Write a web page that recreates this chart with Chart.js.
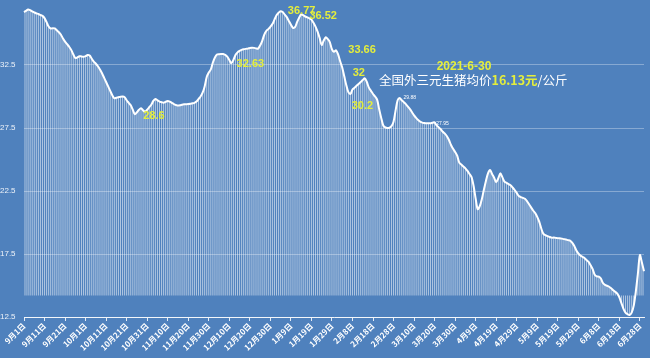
<!DOCTYPE html>
<html>
<head>
<meta charset="utf-8">
<script src="https://cdn.jsdelivr.net/npm/chart.js@4.4.1/dist/chart.umd.min.js"></script>
<style>
html,body{margin:0;padding:0;background:#4f81bd;}
#wrap{width:650px;height:358px;}
</style>
</head>
<body>
<div id="wrap"><canvas id="c" width="650" height="358"></canvas></div>
<script>
// ---- data ----
const monthNums = [9,10,11,12,1,2,3,4,5,6];
const monthDays = [30,31,30,31,31,28,31,30,31,30];
const categories = [];
monthNums.forEach((m,i)=>{ for(let d=1; d<=monthDays[i]; d++) categories.push(m+'月'+d+'日'); });

const tickLabels = ['9月1日','9月11日','9月21日','10月1日','10月11日','10月21日','10月31日','11月10日','11月20日','11月30日','12月10日','12月20日','12月30日','1月9日','1月19日','1月29日','2月8日','2月18日','2月28日','3月10日','3月20日','3月30日','4月9日','4月19日','4月29日','5月9日','5月19日','5月29日','6月8日','6月18日','6月28日'];

const price = [
36.7,36.8,36.9,36.85,36.75,36.68,36.6,36.55,36.47,36.4,
36.22,35.9,35.55,35.4,35.42,35.4,35.25,35.1,34.9,34.6,
34.35,34.15,33.95,33.7,33.35,33.05,33.1,33.2,33.18,33.15,
33.2,33.3,33.25,33.0,32.76,32.6,32.4,32.15,31.85,31.5,
31.15,30.8,30.45,30.1,29.86,29.9,29.94,29.98,30.0,29.95,
29.7,29.5,29.3,28.95,28.6,28.75,28.95,29.06,28.9,28.8,
28.95,29.15,29.35,29.65,29.8,29.7,29.6,29.55,29.5,29.58,
29.65,29.6,29.5,29.4,29.33,29.28,29.3,29.35,29.38,29.39,
29.4,29.42,29.46,29.5,29.6,29.8,30.0,30.3,30.8,31.55,
31.9,32.15,32.7,33.1,33.33,33.36,33.37,33.37,33.3,33.16,
32.9,32.63,32.9,33.3,33.5,33.62,33.7,33.75,33.78,33.8,
33.85,33.87,33.86,33.82,33.8,34.05,34.4,34.9,35.2,35.35,
35.53,35.75,36.1,36.45,36.65,36.77,36.7,36.5,36.3,36.0,
35.7,35.45,35.5,35.9,36.25,36.52,36.45,36.35,36.28,36.2,
36.1,35.85,35.55,35.15,34.65,34.1,34.45,34.7,34.55,34.3,
33.75,33.55,33.66,33.35,32.8,32.3,31.6,30.9,30.35,30.2,
30.55,30.7,30.85,31.0,31.15,31.3,31.44,31.15,30.7,30.45,
30.2,30.0,29.75,29.0,28.3,27.7,27.55,27.5,27.52,27.65,
28.0,28.9,29.7,29.88,29.7,29.55,29.4,29.2,29.0,28.75,
28.5,28.3,28.13,28.0,27.93,27.9,27.88,27.87,27.88,27.92,
27.95,27.7,27.55,27.4,27.2,27.05,26.85,26.55,26.15,25.85,
25.6,25.3,24.75,24.6,24.45,24.3,24.1,23.85,23.6,22.9,
21.9,21.05,21.3,21.85,22.6,23.3,23.9,24.17,23.85,23.55,
23.2,23.5,23.9,23.6,23.25,23.15,23.05,22.95,22.78,22.58,
22.35,22.1,22.02,21.95,21.88,21.7,21.45,21.2,20.95,20.75,
20.45,20.05,19.5,19.1,19.0,18.92,18.85,18.8,18.8,18.78,
18.76,18.75,18.72,18.68,18.65,18.6,18.56,18.4,18.15,17.8,
17.55,17.38,17.28,17.18,17.02,16.88,16.6,16.3,15.85,15.72,
15.7,15.55,15.2,15.05,14.98,14.9,14.78,14.62,14.5,14.35,
14.05,13.6,13.15,12.85,12.72,12.66,12.85,13.4,14.5,15.9,
17.42,16.8,16.13
];

const peakIndex  = [125,135,101,54,152,166,159,183,200];
const peakLabels = ['36.77','36.52','32.63','28.6','33.66','32','30.2','29.88','27.95'];

const titleDate = '2021-6-30';
const titleParts = ['全国外三元生猪均价','16.13元','/公斤'];

// ---- styling / drawing ----
const YELLOW = '#e4ee3c';
const CJK = '"Noto Sans CJK SC","Liberation Sans",sans-serif';
const peakStyle = [
  {dx:21,dy:0,size:11,color:YELLOW,bold:true},
  {dx:22,dy:2,size:11,color:YELLOW,bold:true},
  {dx:19,dy:1,size:11,color:YELLOW,bold:true},
  {dx:19,dy:2,size:11,color:YELLOW,bold:true},
  {dx:26,dy:0,size:11,color:YELLOW,bold:true},
  {dx:-6,dy:-5,size:11,color:YELLOW,bold:true},
  {dx:12,dy:12,size:11,color:YELLOW,bold:true},
  {dx:10,dy:0,size:5,color:'#ffffff',bold:false},
  {dx:8,dy:1,size:5,color:'#ffffff',bold:false}
];

const bgPlugin = {
  id:'bg',
  beforeDraw(chart){
    const ctx = chart.ctx;
    ctx.save();
    ctx.fillStyle = '#4f81bd';
    ctx.fillRect(0,0,chart.width,chart.height);
    ctx.restore();
  }
};

const textPlugin = {
  id:'texts',
  afterDatasetsDraw(chart){
    const ctx = chart.ctx;
    const xs = chart.scales.x, ys = chart.scales.y;
    ctx.save();
    ctx.textAlign = 'center';
    ctx.textBaseline = 'middle';
    peakIndex.forEach((idx,i)=>{
      const st = peakStyle[i];
      const x = xs.getPixelForValue(idx) + st.dx;
      const y = ys.getPixelForValue(price[idx]) + st.dy;
      ctx.font = (st.bold?'bold ':'') + st.size + 'px "Liberation Sans",sans-serif';
      ctx.fillStyle = st.color;
      ctx.fillText(peakLabels[i], x, y);
    });
    // title block
    ctx.font = 'bold 12px "Liberation Sans",sans-serif';
    ctx.fillStyle = YELLOW;
    ctx.fillText(titleDate, 464, 67);
    ctx.textAlign = 'left';
    let x = 379;
    const fonts = ['12.5px '+CJK, 'bold 12.5px '+CJK, '12.5px '+CJK];
    const colors = ['#ffffff', YELLOW, '#ffffff'];
    titleParts.forEach((t,i)=>{
      ctx.font = fonts[i];
      ctx.fillStyle = colors[i];
      ctx.fillText(t, x, 80);
      x += ctx.measureText(t).width;
    });
    ctx.restore();
  }
};

new Chart(document.getElementById('c'), {
  data:{
    labels: categories,
    datasets:[
      {
        type:'line',
        data: price,
        borderColor:'#ffffff',
        borderWidth:2,
        pointRadius:0,
        tension:0.3,
        fill:false,
        order:0
      },
      {
        type:'bar',
        data: price,
        base: 14.2,
        backgroundColor:'rgba(255,255,255,0.55)',
        borderWidth:0,
        barPercentage:0.5,
        categoryPercentage:1.0,
        order:1
      }
    ]
  },
  options:{
    responsive:false,
    animation:false,
    devicePixelRatio:1,
    layout:{padding:{top:2,right:6,left:0,bottom:0}},
    plugins:{legend:{display:false},tooltip:{enabled:false}},
    scales:{
      x:{
        type:'category',
        offset:false,
        grid:{offset:false,drawOnChartArea:false,drawTicks:true,tickLength:4,color:'rgba(255,255,255,0.85)'},
        border:{display:true,color:'rgba(255,255,255,0.9)',width:1},
        afterBuildTicks(scale){ scale.ticks = scale.ticks.filter(t => t.value % 10 === 0); },
        afterFit(scale){ scale.height = 41; scale.paddingLeft = 0; scale.paddingRight = 0; },
        ticks:{
          autoSkip:false,
          minRotation:45,
          maxRotation:45,
          padding:0,
          color:'#ffffff',
          font:{family:CJK,size:8,weight:'bold'},
          callback(value){ return tickLabels[Math.round(value/10)]; }
        }
      },
      y:{
        min:12.5,
        max:37.5,
        afterFit(scale){ scale.width = 24; scale.paddingTop = 0; scale.paddingBottom = 0; },
        border:{display:false},
        grid:{
          drawTicks:false,
          color(ctx){ return ctx.tick && ctx.tick.value >= 37.5 ? 'rgba(0,0,0,0)' : 'rgba(255,255,255,0.32)'; }
        },
        ticks:{
          stepSize:5,
          crossAlign:'far',
          padding:3,
          color:'rgba(255,255,255,0.9)',
          font:{family:'"Liberation Sans",sans-serif',size:8},
          callback(v){ return v >= 37.5 ? '' : v.toFixed(1); }
        }
      }
    }
  },
  plugins:[bgPlugin,textPlugin]
});
</script>
</body>
</html>
